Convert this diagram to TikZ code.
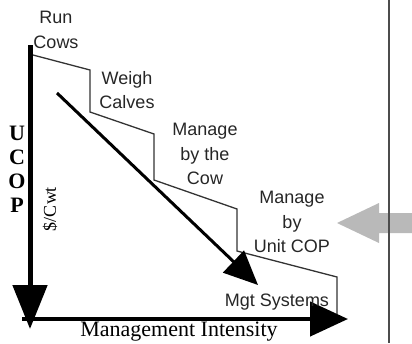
\documentclass[tikz,border=0pt]{standalone}
\usepackage{fontspec}
\setmainfont{Liberation Serif}
\newfontfamily\arialfont{Liberation Sans}
\usetikzlibrary{arrows.meta}
\begin{document}
\begin{tikzpicture}[x=1pt,y=-1pt,
  lbl/.style={font=\arialfont\fontsize{18}{24.5}\selectfont, align=center, text=black!85, inner sep=0pt},
  axlbl/.style={font=\fontsize{22}{24}\selectfont\bfseries, inner sep=0pt},
  stepline/.style={draw=black!80, line width=1.3pt, line join=miter},
  bigaxis/.style={line width=5pt, -{Triangle[length=44pt,width=34pt]}},
  haxis/.style={line width=4.5pt, -{Triangle[length=38pt,width=34pt]}},
  diag/.style={line width=3pt, -{Triangle[length=34pt,width=30pt]}}]
\useasboundingbox (0,0) rectangle (412,343);

% gray pointer arrow
\fill[gray!55] (337,223) -- (379,203) -- (379,213) -- (412,213) -- (412,233) -- (379,233) -- (379,243) -- cycle;
% right separator line
\draw[black!70, line width=1.2pt] (389,0) -- (389,343);

% step line
\draw[stepline] (33,55) -- (90,70) -- (90,112) -- (154,134) -- (154,180) -- (237,209) -- (237,251) -- (337,277) -- (337,314);

% coordinates for axes and arrow
\coordinate (vtop) at (30,45);
\coordinate (vtip) at (30,329);
\coordinate (hleft) at (22,319);
\coordinate (htip) at (348,319);
\coordinate (dstart) at (57,93);
\coordinate (dtip) at (258,285);

\draw[bigaxis] (vtop) -- (vtip);
\draw[haxis] (hleft) -- (htip);
\draw[diag] (dstart) -- (dtip);

% labels
\node[lbl] (run) at (56,30) {Run\\Cows};
\node[lbl] (weigh) at (127,90) {Weigh\\Calves};
\node[lbl] (cow) at (205,154) {Manage\\by the\\Cow};
\node[lbl] (unit) at (292,222) {Manage\\by\\Unit COP};
\node[lbl] (mgt) at (277,302) {Mgt Systems};
\node[font=\fontsize{22}{24}\selectfont, inner sep=0pt] (mi) at (179,332) {Management Intensity};
\node[axlbl] (u) at (17,133) {U};
\node[axlbl] (c) at (17,157) {C};
\node[axlbl] (o) at (17,181) {O};
\node[axlbl] (p) at (17,205) {P};
\node[font=\fontsize{18}{20}\selectfont, rotate=90, inner sep=0pt] (cwt) at (50,209) {\$/Cwt};
\end{tikzpicture}
\end{document}
